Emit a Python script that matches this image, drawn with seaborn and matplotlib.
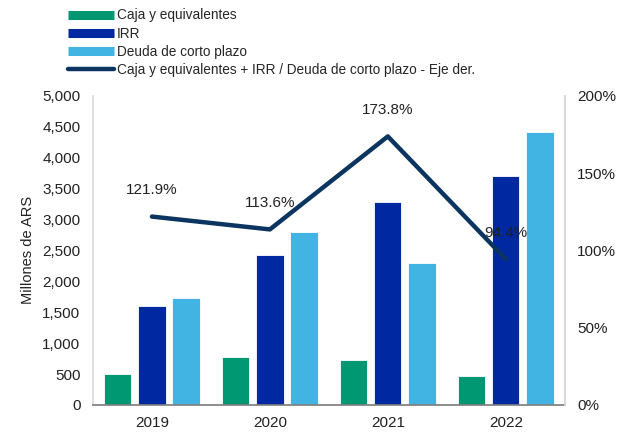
import matplotlib
matplotlib.use("Agg")
import matplotlib.pyplot as plt
import pandas as pd
import seaborn as sns
from matplotlib.lines import Line2D
from matplotlib.ticker import FuncFormatter

years = ["2019", "2020", "2021", "2022"]
caja = [500, 770, 730, 470]
irr = [1600, 2420, 3280, 3710]
deuda = [1730, 2800, 2300, 4420]
ratio = [121.9, 113.6, 173.8, 94.4]

series_names = ["Caja y equivalentes", "IRR", "Deuda de corto plazo"]
line_name = "Caja y equivalentes + IRR / Deuda de corto plazo - Eje der."
bar_colors = ["#009873", "#0028A0", "#41B4E4"]
line_color = "#0B3560"

sns.set_theme(style="white")
plt.rcParams["font.family"] = ["Liberation Sans", "DejaVu Sans"]

df = pd.DataFrame({
    "year": years * 3,
    "value": caja + irr + deuda,
    "serie": [s for s in series_names for _ in years],
})

fig = plt.figure(figsize=(6.24, 4.34), dpi=100)
ax = fig.add_axes([0.149, 0.067, 0.756, 0.712])

sns.barplot(data=df, x="year", y="value", hue="serie", hue_order=series_names,
            palette=bar_colors, saturation=1, width=0.87, gap=0.2, legend=False,
            ax=ax, edgecolor="white", linewidth=0.6)
ax.set_ylim(0, 5000)
ax.set_xlim(-0.5, 3.5)
ax.set_yticks(range(0, 5001, 500))
ax.yaxis.set_major_formatter(FuncFormatter(lambda v, p: f"{int(v):,}"))
ax.set_xlabel("")
ax.set_ylabel("Millones de ARS", fontsize=10.5, color="#222222", labelpad=5)
ax.tick_params(axis="y", labelsize=11, colors="#222222", length=0, pad=9)
ax.tick_params(axis="x", labelsize=11, colors="#222222", length=0, pad=8)
ax.spines["top"].set_visible(False)
ax.spines["left"].set_color("#D9D9D9")
ax.spines["right"].set_color("#D9D9D9")
ax.spines["bottom"].set_color("#808080")

ax2 = ax.twinx()
sns.lineplot(x=[0, 1, 2, 3], y=ratio, color=line_color, linewidth=3.2,
             solid_capstyle="round", ax=ax2)
ax2.set_ylim(0, 200)
ax2.set_yticks(range(0, 201, 50))
ax2.yaxis.set_major_formatter(FuncFormatter(lambda v, p: f"{int(v)}%"))
ax2.tick_params(axis="y", labelsize=11, colors="#222222", length=0, pad=9)
for s in ["top", "left", "bottom"]:
    ax2.spines[s].set_visible(False)
ax2.spines["right"].set_color("#D9D9D9")
ax2.set_ylabel("")

for i, r in enumerate(ratio):
    ax2.annotate(f"{r:.1f}%", (i, r), xytext=(0, 19), textcoords="offset points",
                 ha="center", va="center", fontsize=11, color="#222222")

handles = [Line2D([0], [0], color=c, lw=6.5, solid_capstyle="butt") for c in bar_colors]
handles.append(Line2D([0], [0], color=line_color, lw=3.2, solid_capstyle="round"))
fig.legend(handles, series_names + [line_name], loc="upper left",
           bbox_to_anchor=(0.1, 0.993), frameon=False, fontsize=9.8,
           handlelength=3.4, handletextpad=0.2, labelspacing=0.3,
           borderaxespad=0.0)

fig.savefig("out.png", dpi=100)
